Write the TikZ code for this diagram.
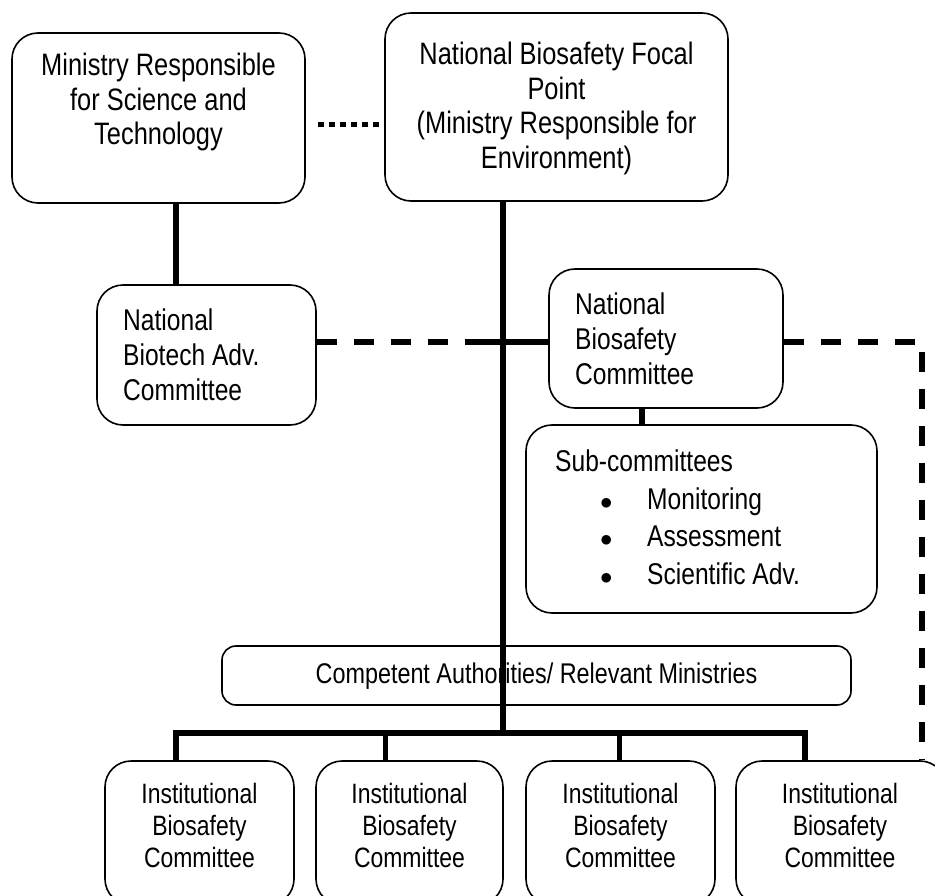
\documentclass[tikz,border=0pt]{standalone}
\usepackage{fontspec}
\setmainfont{Liberation Sans}[FakeStretch=0.82]
\usepackage{tikz}
\newcommand{\ibc}{Institutional\\Biosafety\\Committee}
\newcommand{\bitem}[1]{\hspace*{45pt}\makebox[47pt][l]{$\bullet$}#1}

\begin{document}
\begin{tikzpicture}[x=1pt, y=-1pt,
        box/.style={draw, line width=1.6pt, rounded corners=26pt, inner sep=0pt},
        bigtxt/.style={font=\fontsize{31pt}{34.5pt}\selectfont, align=center, inner sep=0pt},
        midtxt/.style={font=\fontsize{30pt}{35pt}\selectfont, align=left, inner sep=0pt},
        ibctxt/.style={font=\fontsize{28pt}{32pt}\selectfont, align=center, inner sep=0pt},
        thickline/.style={line width=6pt},
        drop/.style={line width=5pt},
        dashline/.style={line width=5.5pt, dash pattern=on 20pt off 17pt},
        dotline/.style={line width=5pt, dash pattern=on 6pt off 5pt}]

                    \useasboundingbox (0,0) rectangle (935,896);

                    % boxes
                    \node [box, minimum width=293, minimum height=170] (msta) at (158.5,118) {};
                    \node [box, minimum width=343, minimum height=188] (nbfp) at (556.5,107) {};
                    \node [box, minimum width=219, minimum height=140] (nbac) at (206.5,355) {};
                    \node [box, minimum width=234, minimum height=139] (nbc) at (666,338.5) {};
                    \node [box, minimum width=351, minimum height=188] (subc) at (701.5,519) {};
                    \node [box, rounded corners=14pt, minimum width=629, minimum height=59] (ca) at (536.5,675.5) {};
                    \foreach \n/\x/\w in {1/199.5/189, 2/409.5/187, 3/620.5/189, 4/841/210}
                        \node [box, minimum width=\w, minimum height=144] (ibc\n) at (\x,833) {};

                    % texts
                    \node [bigtxt, anchor=north] (msta-t) at (158.5,53)
                        {Ministry Responsible\\for Science and\\Technology};
                    \node [bigtxt, anchor=north] (nbfp-t) at (556.5,42)
                        {National Biosafety Focal\\Point\\(Ministry Responsible for\\Environment)};
                    \node [midtxt, anchor=north west] (nbac-t) at (123,309)
                        {National\\Biotech Adv.\\Committee};
                    \node [midtxt, anchor=north west] (nbc-t) at (575,293)
                        {National\\Biosafety\\Committee};
                    \node [midtxt, font=\fontsize{30pt}{37.5pt}\selectfont, anchor=north west] (subc-t) at (555,450)
                        {Sub-committees\\\bitem{Monitoring}\\\bitem{Assessment}\\\bitem{Scientific Adv.}};
                    \node [ibctxt, font=\fontsize{28.5pt}{32pt}\selectfont] (ca-t) at (536.5,676)
                        {Competent Authorities/ Relevant Ministries};
                    \foreach \n/\x in {1/199.5, 2/409.5, 3/620.5, 4/840}
                        \node [ibctxt, anchor=north] (ibc\n-t) at (\x,783) {\ibc};

                    % connectors
                    \coordinate (bus) at ([xshift=-53.5pt]nbfp.south |- 0,733);
                    \draw [thickline] ([xshift=-53.5pt]nbfp.south) -- (bus);

                    \coordinate (c1) at ([xshift=17.5pt]msta.south);
                    \draw [thickline] (c1) -- (c1 |- nbac.north);

                    \coordinate (dl) at ([shift={(12,7)}]msta.east);
                    \draw [dotline] (dl) -- (dl -| nbfp.west);

                    \coordinate (hl) at ([shift={(0,3.5)}]nbc.west);
                    \draw [dashline] (nbac.east |- hl) -- (hl -| bus);
                    \draw [thickline] ([xshift=-20pt]hl -| bus) -- (hl);

                    \coordinate (dcorner) at (922,0 |- hl);
                    \draw [dashline] (nbc.east |- hl) -- (dcorner) -- (dcorner |- ibc4.north);

                    \coordinate (c2) at ([xshift=-24pt]nbc.south);
                    \draw [drop, line width=5.5pt] (c2) -- (c2 |- subc.north);

                    \foreach \n/\dx in {1/-23.5, 2/-24.5, 3/-1.5, 4/-36}
                        \coordinate (d\n) at ([xshift=\dx pt]ibc\n.north);
                    \draw [thickline, line join=miter] (d1) -- (d1 |- bus) -- (d4 |- bus) -- (d4);
                    \foreach \n in {2, 3}
                        \draw [drop] (d\n) -- (d\n |- bus);
                \end{tikzpicture}
\end{document}
